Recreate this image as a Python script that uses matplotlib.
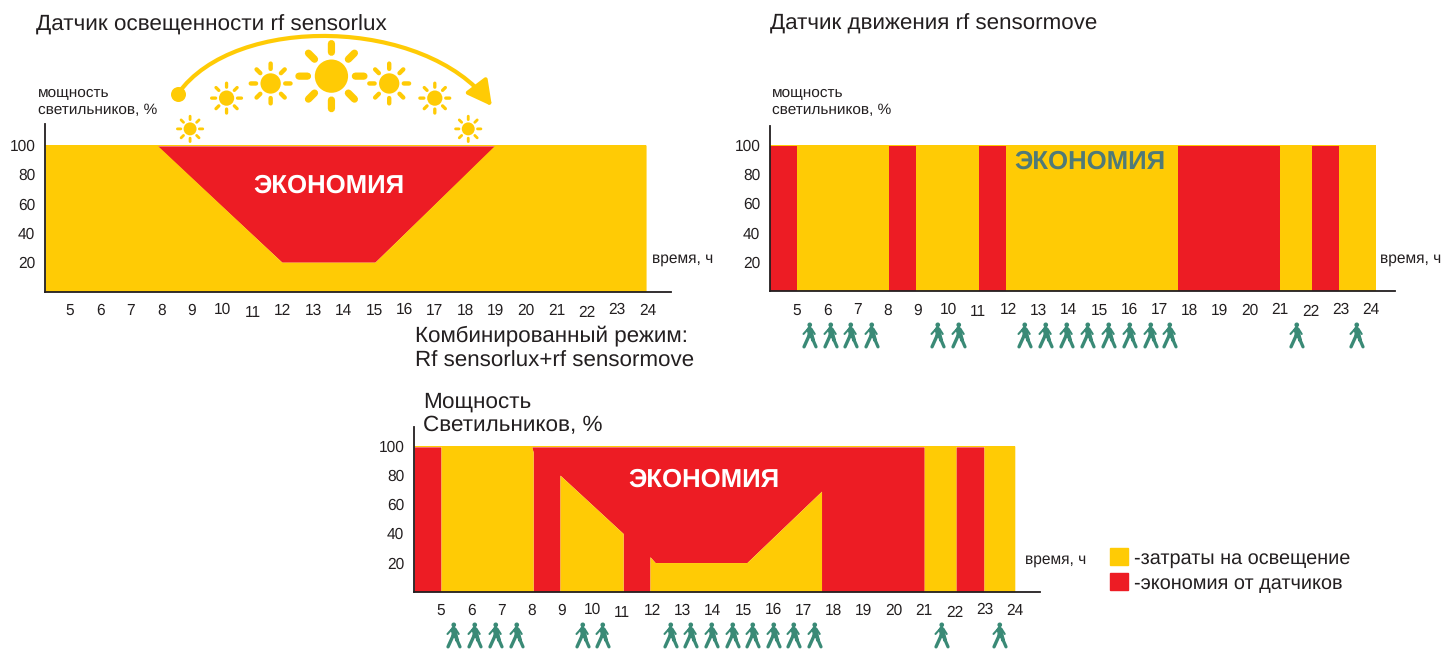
import numpy as np
import matplotlib
matplotlib.use("Agg")
import matplotlib.pyplot as plt
from matplotlib.path import Path
from matplotlib.patches import FancyArrowPatch, Patch
from matplotlib.transforms import ScaledTranslation

plt.rcParams["font.family"] = ["Liberation Sans", "DejaVu Sans"]
plt.rcParams["text.hinting"] = "no_hinting"

YELLOW = "#FFCB05"
RED = "#ED1C24"
GREEN = "#3A8A76"
DARK = "#231F20"

W, H = 1442, 651

# data
hour_labels = list(range(5, 25))
power_ticks = [20, 40, 60, 80, 100]

lux_hours = [4.18, 7.86, 11.97, 15.03, 18.98, 23.95]
lux_power = [100, 100, 20, 20, 100, 100]

move_hours = [4.1, 5, 5, 8.05, 8.05, 8.94, 8.94, 11.03, 11.03, 11.92, 11.92, 17.6, 17.6, 21, 21, 22.05, 22.05, 22.95, 22.95, 24.17]
move_power = [0, 0, 100, 100, 0, 0, 100, 100, 0, 0, 100, 100, 0, 0, 100, 100, 0, 0, 100, 100]

combo_hours = [4.11, 5, 5, 8.0, 8.05, 8.05, 8.94, 8.94, 11.03, 11.03, 11.92, 11.92, 12.09, 15.13, 17.6, 17.6, 21, 21, 22.05, 22.05, 22.98, 22.98, 24]
combo_power = [0, 0, 100, 100, 96, 0, 0, 80, 40, 0, 0, 24, 20, 20, 69, 0, 0, 100, 100, 0, 0, 100, 100]

move_walkers = [5.4, 6.09, 6.75, 7.44, 9.65, 10.33, 12.52, 13.21, 13.92, 14.61, 15.3, 16, 16.68, 17.32, 21.52, 23.51]
combo_walkers = [5.41, 6.09, 6.79, 7.47, 9.67, 10.33, 12.57, 13.26, 13.94, 14.62, 15.3, 15.98, 16.67, 17.34, 21.56, 23.49]

sun_hours = [8.95, 10.15, 11.6, 13.6, 15.5, 17.0, 18.1]
sun_values = [111, 132, 142, 147, 142, 132, 111]
sun_sizes = [14, 16.5, 22, 36, 22, 16.5, 14]  # radius, px

arc_hours = [8.55, 10.43, 16.68, 18.88]
arc_values = [135, 190, 187, 126.5]

label_nudge = {10: 1, 11: -2, 16: 1, 22: -2, 23: 1}


def capsule(p0, p1, w, n=6):
    p0, p1 = np.array(p0, float), np.array(p1, float)
    a = np.arctan2(*(p1 - p0)[::-1])
    pts = []
    for c, start in ((p1, a - np.pi / 2), (p0, a + np.pi / 2)):
        for t in np.linspace(start, start + np.pi, n):
            pts.append(c + w / 2 * np.array([np.cos(t), np.sin(t)]))
    pts.append(pts[0])
    codes = [Path.MOVETO] + [Path.LINETO] * (len(pts) - 2) + [Path.CLOSEPOLY]
    return Path(pts, codes)


def blob(cx, cy, r):
    c = Path.unit_circle()
    return Path(c.vertices * r + [cx, cy], c.codes)


def sun_marker():
    parts = [blob(0, 0, 0.46)]
    for a in np.arange(8) * np.pi / 4:
        d = np.array([np.cos(a), np.sin(a)])
        parts.append(capsule(d * 0.66, d * 0.9, 0.2))
    return Path.make_compound_path(*parts)


def walker_marker():
    parts = [
        blob(0.02, 0.82, 0.18),
        capsule((0.0, 0.48), (0.08, 0.02), 0.42),
        capsule((-0.02, 0.02), (-0.42, -0.87), 0.26),
        capsule((0.16, 0.02), (0.28, -0.36), 0.3),
        capsule((0.28, -0.36), (0.5, -0.87), 0.25),
        capsule((-0.12, 0.5), (-0.46, 0.12), 0.16),
        capsule((0.16, 0.5), (0.4, 0.12), 0.16),
    ]
    return Path.make_compound_path(*parts)


def make_panel(left, right, bottom, top, hour5, step, y100, hours, power):
    ax = fig.add_axes([left / W, 1 - bottom / H, (right - left) / W, (bottom - top) / H])
    scale = (bottom - y100) / 100
    ax.set_xlim(5 + (left - hour5) / step, 5 + (right - hour5) / step)
    ax.set_ylim(0, (bottom - top) / scale)
    hours = np.array(hours, float)
    power = np.array(power, float)
    ax.fill_between(hours, np.minimum(power, 99.4), 99.4, color=RED, lw=0)
    ax.fill_between(hours, 0, power, color=YELLOW, lw=0)
    ax.fill_between(hours[[0, -1]], 99.4, 100, color=YELLOW, lw=0)
    for s in ("top", "right"):
        ax.spines[s].set_visible(False)
    for s in ("left", "bottom"):
        ax.spines[s].set_linewidth(1.3)
        ax.spines[s].set_color(DARK)
    ax.set_xticks(hour_labels)
    ax.set_yticks(power_ticks)
    ax.tick_params(length=0, labelsize=11.2, labelcolor=DARK)
    ax.tick_params(axis="x", pad=8.5)
    ax.tick_params(axis="y", pad=7)
    for h, lbl in zip(hour_labels, ax.get_xticklabels()):
        if h in label_nudge:
            lbl.set_transform(lbl.get_transform() + ScaledTranslation(0, label_nudge[h] / 100, fig.dpi_scale_trans))
    return ax


def put(x, y, s, size, **kw):
    fig.text(x / W, 1 - (y + 1.5) / H, s, fontsize=size, va="center", color=kw.pop("color", DARK), **kw)


fig = plt.figure(figsize=(W / 100, H / 100), dpi=100)

ax1 = make_panel(45, 671, 291.5, 124, 70, 30.4, 145, lux_hours, lux_power)
ax2 = make_panel(770, 1395, 291, 126, 797, 30.2, 145, move_hours, move_power)
ax3 = make_panel(414, 1040, 591.7, 427, 441, 30.2, 446, combo_hours, combo_power)

# suns and arrow over the first panel
sun = sun_marker()
ax1.scatter(sun_hours, sun_values, s=[(2 * r * 0.72) ** 2 for r in sun_sizes],
            marker=sun, color=YELLOW, linewidths=0, clip_on=False, zorder=5)
arc = Path(np.column_stack([arc_hours, arc_values]), [Path.MOVETO, Path.CURVE4, Path.CURVE4, Path.CURVE4])
ax1.add_patch(FancyArrowPatch(path=arc, arrowstyle="-|>,head_length=15,head_width=8", mutation_scale=1,
                              color=YELLOW, lw=3.0, clip_on=False, zorder=5, shrinkA=0, shrinkB=0))
ax1.scatter(arc_hours[:1], arc_values[:1], s=(15 * 0.72) ** 2, color=YELLOW, linewidths=0, clip_on=False, zorder=5)

# people under the other two
man = walker_marker()
for ax, xs in ((ax2, move_walkers), (ax3, combo_walkers)):
    ax.scatter(xs, [-30] * len(xs), s=(26 * 0.72) ** 2, marker=man, color=GREEN, linewidths=0, clip_on=False, zorder=5)

# labels
put(36, 23, "Датчик освещенности rf sensorlux", 16.2)
put(770, 22, "Датчик движения rf sensormove", 16.1)
put(38, 92, "мощность", 11.1)
put(38, 109, "светильников, %", 11.1)
put(772, 92, "мощность", 11.1)
put(772, 109, "светильников, %", 11.1)
put(652, 257, "время, ч", 11.2)
put(1380, 257, "время, ч", 11.2)
put(1025, 558, "время, ч", 11.2)
put(415, 334, "Комбинированный режим:", 16.1)
put(415, 360, "Rf sensorlux+rf sensormove", 16.1)
put(423, 400, "Мощность", 16.2)
put(423, 424, "Светильников, %", 16.2)
put(329, 185, "ЭКОНОМИЯ", 18.5, ha="center", color="white", fontweight="bold")
put(1090, 161, "ЭКОНОМИЯ", 18.5, ha="center", color="#4F7A78", fontweight="bold")
put(703.5, 479, "ЭКОНОМИЯ", 18.5, ha="center", color="white", fontweight="bold")

fig.legend(handles=[Patch(color=YELLOW, label="-затраты на освещение"), Patch(color=RED, label="-экономия от датчиков")],
           loc="upper left", bbox_to_anchor=(1096 / W, 1 - 534 / H), frameon=False, fontsize=14.3,
           handlelength=0.93, handleheight=0.96, handletextpad=0.3, labelspacing=0.28, borderpad=0.2, labelcolor=DARK)

fig.savefig("out.png", dpi=100)
